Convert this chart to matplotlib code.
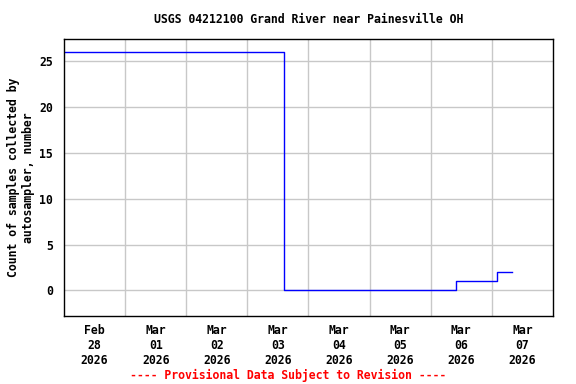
import numpy as np
import pandas as pd
import matplotlib
matplotlib.use("Agg")
import matplotlib.pyplot as plt

# ----------------------------------------------------------------------
# Data
# ----------------------------------------------------------------------
TIMES = ["2026-02-28 00:00", "2026-03-03 14:00", "2026-03-03 14:15",
         "2026-03-03 14:30", "2026-03-06 09:45", "2026-03-06 10:00",
         "2026-03-07 01:45", "2026-03-07 02:00", "2026-03-07 08:00"]
COUNTS = [26, 26, 13, 0, 0, 1, 1, 2, 2]

TITLE = "USGS 04212100 Grand River near Painesville OH"
YLABEL = "Count of samples collected by\nautosampler, number"
FOOTER = "---- Provisional Data Subject to Revision ----"

DAYS = pd.date_range("2026-02-28", "2026-03-08", freq="D")
YTICKS = [0, 5, 10, 15, 20, 25]

# ----------------------------------------------------------------------
# Plot
# ----------------------------------------------------------------------
plt.rcParams["font.family"] = "DejaVu Sans Mono"
plt.rcParams["font.weight"] = "bold"
plt.rcParams["axes.titleweight"] = "bold"
plt.rcParams["axes.labelweight"] = "bold"
plt.rcParams["font.size"] = 8.3
plt.rcParams["axes.titlesize"] = 8.3

fig = plt.figure(figsize=(5.76, 3.84), dpi=100)
ax = fig.add_axes([0.111, 0.177, 0.849, 0.721])

t = pd.to_datetime(TIMES)
ax.step(t, COUNTS, where="post", color="blue", linewidth=1)

ax.set_xlim(DAYS[0], DAYS[-1])
ax.set_ylim(-2.8, 27.4)
ax.set_yticks(YTICKS)

# gridlines at midnight, labels at noon
ax.set_xticks(DAYS[1:-1])
ax.set_xticklabels([])
ax.set_xticks(DAYS[:-1] + pd.Timedelta(hours=12), minor=True)
ax.set_xticklabels([d.strftime("%b\n%d\n%Y") for d in DAYS[:-1]], minor=True)
ax.tick_params(axis="x", which="both", length=0, pad=6)
ax.tick_params(axis="y", length=0, pad=8)

ax.grid(True, which="major", color="#c8c8c8", linewidth=1)
ax.set_axisbelow(True)
for s in ax.spines.values():
    s.set_linewidth(1)

ax.set_title(TITLE, pad=12)
ax.set_ylabel(YLABEL, labelpad=3)
fig.text(0.5, 0.022, FOOTER, color="red", ha="center", va="center")

plt.savefig("out.png", dpi=100)
